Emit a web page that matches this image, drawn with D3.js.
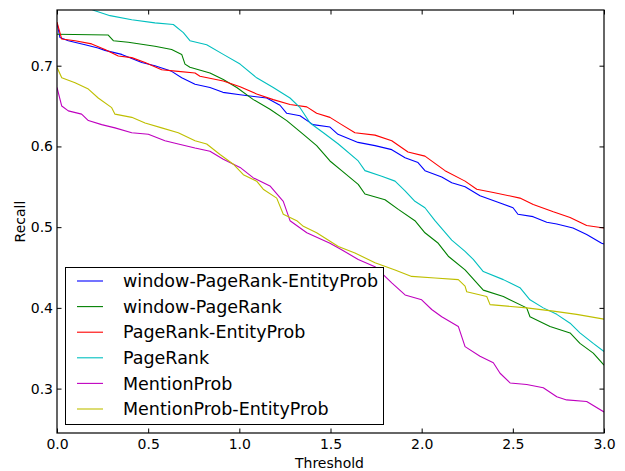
<!DOCTYPE html>
<html><head><meta charset="utf-8">
<script src="https://cdn.jsdelivr.net/npm/d3@7"></script>
<style>body{margin:0;background:#fff}svg{display:block}</style>
</head><body>
<svg id="chart" width="625" height="471"></svg>
<script>
const seriesNames = ["window-PageRank-EntityProb","window-PageRank","PageRank-EntityProb","PageRank","MentionProb","MentionProb-EntityProb"];
const seriesColors = ["#0000ff","#008000","#ff0000","#00bfbf","#bf00bf","#bfbf00"];
const xTicks = [0.0,0.5,1.0,1.5,2.0,2.5,3.0];
const yTicks = [0.3,0.4,0.5,0.6,0.7];

const windowPageRankEntityProb = [[0,0.753],[0.016,0.735],[0.062,0.731],[0.154,0.726],[0.225,0.722],[0.263,0.719],[0.355,0.714],[0.465,0.704],[0.537,0.700],[0.629,0.693],[0.684,0.685],[0.757,0.677],[0.839,0.673],[0.910,0.667],[1.004,0.664],[1.150,0.660],[1.223,0.651],[1.260,0.641],[1.333,0.638],[1.404,0.627],[1.497,0.624],[1.541,0.615],[1.651,0.605],[1.744,0.601],[1.836,0.596],[1.909,0.586],[1.980,0.580],[2.018,0.570],[2.110,0.562],[2.165,0.555],[2.238,0.550],[2.320,0.539],[2.430,0.530],[2.501,0.524],[2.528,0.516],[2.611,0.513],[2.686,0.506],[2.741,0.504],[2.830,0.499],[2.905,0.491],[2.987,0.480],[3.0,0.479]];
const windowPageRank = [[0,0.739],[0.281,0.738],[0.309,0.731],[0.391,0.729],[0.537,0.724],[0.629,0.720],[0.684,0.714],[0.702,0.702],[0.729,0.698],[0.839,0.691],[0.912,0.683],[0.986,0.673],[1.077,0.658],[1.168,0.646],[1.260,0.632],[1.351,0.615],[1.424,0.601],[1.497,0.582],[1.561,0.570],[1.652,0.553],[1.689,0.541],[1.799,0.534],[1.872,0.522],[1.963,0.508],[2.018,0.493],[2.091,0.480],[2.146,0.464],[2.238,0.447],[2.338,0.422],[2.448,0.414],[2.576,0.400],[2.594,0.389],[2.704,0.377],[2.814,0.369],[2.868,0.356],[2.941,0.344],[3.0,0.329]];
const pageRankEntityProb = [[0,0.754],[0.026,0.733],[0.099,0.731],[0.190,0.727],[0.263,0.720],[0.336,0.712],[0.410,0.710],[0.483,0.704],[0.574,0.695],[0.665,0.693],[0.757,0.691],[0.784,0.687],[0.912,0.681],[1.004,0.674],[1.095,0.665],[1.186,0.658],[1.278,0.652],[1.370,0.649],[1.424,0.641],[1.497,0.636],[1.561,0.627],[1.634,0.617],[1.744,0.614],[1.836,0.607],[1.925,0.593],[2.018,0.588],[2.128,0.570],[2.238,0.557],[2.302,0.547],[2.393,0.543],[2.539,0.536],[2.612,0.528],[2.722,0.519],[2.814,0.512],[2.868,0.506],[2.905,0.502],[3.0,0.499]];
const pageRank = [[0,0.79],[0.1,0.779],[0.208,0.768],[0.291,0.762],[0.410,0.757],[0.537,0.753],[0.638,0.751],[0.693,0.741],[0.729,0.731],[0.821,0.726],[0.912,0.714],[1.004,0.702],[1.095,0.685],[1.186,0.673],[1.278,0.660],[1.333,0.648],[1.388,0.629],[1.461,0.617],[1.543,0.603],[1.652,0.582],[1.689,0.570],[1.781,0.563],[1.854,0.557],[1.909,0.545],[1.963,0.532],[2.018,0.524],[2.073,0.508],[2.165,0.484],[2.238,0.470],[2.283,0.460],[2.338,0.445],[2.448,0.435],[2.539,0.425],[2.594,0.410],[2.667,0.400],[2.741,0.392],[2.814,0.381],[2.868,0.369],[2.941,0.356],[3.0,0.346]];
const mentionProb = [[0,0.673],[0.026,0.650],[0.062,0.644],[0.135,0.640],[0.172,0.632],[0.245,0.627],[0.318,0.623],[0.410,0.617],[0.501,0.615],[0.592,0.607],[0.665,0.603],[0.757,0.598],[0.839,0.594],[0.912,0.584],[1.004,0.574],[1.077,0.561],[1.168,0.551],[1.241,0.532],[1.278,0.508],[1.370,0.493],[1.497,0.480],[1.561,0.472],[1.652,0.460],[1.744,0.451],[1.836,0.431],[1.909,0.416],[2.000,0.410],[2.055,0.398],[2.110,0.389],[2.201,0.377],[2.238,0.352],[2.320,0.340],[2.393,0.332],[2.430,0.319],[2.485,0.307],[2.576,0.305],[2.667,0.301],[2.741,0.290],[2.795,0.286],[2.905,0.284],[3.0,0.271]];
const mentionProbEntityProb = [[0,0.698],[0.026,0.685],[0.099,0.679],[0.172,0.671],[0.226,0.660],[0.300,0.648],[0.318,0.640],[0.410,0.636],[0.483,0.629],[0.574,0.623],[0.665,0.617],[0.757,0.607],[0.821,0.603],[0.894,0.590],[0.967,0.578],[1.022,0.565],[1.095,0.557],[1.131,0.547],[1.205,0.536],[1.241,0.516],[1.315,0.508],[1.351,0.501],[1.424,0.493],[1.543,0.476],[1.634,0.468],[1.744,0.456],[1.854,0.447],[1.945,0.439],[2.073,0.437],[2.201,0.435],[2.238,0.427],[2.247,0.420],[2.357,0.414],[2.375,0.404],[2.576,0.400],[2.722,0.396],[2.850,0.392],[3.0,0.386]];

const seriesData = [windowPageRankEntityProb, windowPageRank, pageRankEntityProb, pageRank, mentionProb, mentionProbEntityProb];

const svg = d3.select("#chart");
const L = 57, R = 604, T = 10, B = 433;
const x = d3.scaleLinear().domain([0,3]).range([L,R]);
const y = d3.scaleLinear().domain([0.245,0.769]).range([B,T]);
const font = "DejaVu Sans, sans-serif";

svg.append("rect").attr("x",0).attr("y",0).attr("width",625).attr("height",471).attr("fill","#fff");
svg.append("defs").append("clipPath").attr("id","clip")
  .append("rect").attr("x",L).attr("y",T).attr("width",R-L).attr("height",B-T);

const line = d3.line().x(d=>x(d[0])).y(d=>y(d[1]));
const g = svg.append("g").attr("clip-path","url(#clip)");
seriesData.forEach((s,i)=>{
  g.append("path").datum(s).attr("d",line).attr("fill","none")
    .attr("stroke",seriesColors[i]).attr("stroke-width",1.1).attr("stroke-linejoin","round");
});

// axes with inward ticks
const tl = 4.5;
const axB = svg.append("g").attr("transform",`translate(0,${B})`)
  .call(d3.axisBottom(x).tickValues(xTicks).tickFormat(d3.format(".1f")).tickSizeInner(-tl).tickSizeOuter(0).tickPadding(8));
const axT = svg.append("g").attr("transform",`translate(0,${T})`)
  .call(d3.axisTop(x).tickValues(xTicks).tickFormat("").tickSizeInner(-tl).tickSizeOuter(0));
const axL = svg.append("g").attr("transform",`translate(${L},0)`)
  .call(d3.axisLeft(y).tickValues(yTicks).tickFormat(d3.format(".1f")).tickSizeInner(-tl).tickSizeOuter(0).tickPadding(4));
const axR = svg.append("g").attr("transform",`translate(${R},0)`)
  .call(d3.axisRight(y).tickValues(yTicks).tickFormat("").tickSizeInner(-tl).tickSizeOuter(0));
[axB,axT,axL,axR].forEach(a=>{
  a.select(".domain").remove();
  a.selectAll(".tick line").attr("stroke","#000").attr("stroke-width",1);
  a.selectAll("text").attr("font-family",font).attr("font-size",14).attr("fill","#000");
});
axB.selectAll("text").attr("y",6).attr("dy","0.71em");
axL.selectAll("text").attr("x",-4);
svg.append("rect").attr("x",L).attr("y",T).attr("width",R-L).attr("height",B-T)
  .attr("fill","none").attr("stroke","#000").attr("stroke-width",1.2);

svg.append("text").attr("x",(L+R)/2 - 1).attr("y",468).attr("text-anchor","middle")
  .attr("font-family",font).attr("font-size",14).text("Threshold");
svg.append("text").attr("transform",`translate(25,${(T+B)/2}) rotate(-90)`).attr("text-anchor","middle")
  .attr("font-family",font).attr("font-size",14).text("Recall");

// legend
const lg = svg.append("g");
lg.append("rect").attr("x",65.5).attr("y",267.5).attr("width",318).attr("height",157)
  .attr("fill","#fff").attr("stroke","#000").attr("stroke-width",1);
const rowY = d3.scalePoint().domain(d3.range(seriesNames.length)).range([281,409]);
seriesNames.forEach((n,i)=>{
  const yy = rowY(i);
  lg.append("line").attr("x1",77).attr("x2",103).attr("y1",yy).attr("y2",yy)
    .attr("stroke",seriesColors[i]).attr("stroke-width",1.1);
  lg.append("text").attr("x",123).attr("y",yy).attr("dy","0.35em")
    .attr("font-family",font).attr("font-size",17.5).attr("fill","#000").text(n);
});
</script>
</body></html>
